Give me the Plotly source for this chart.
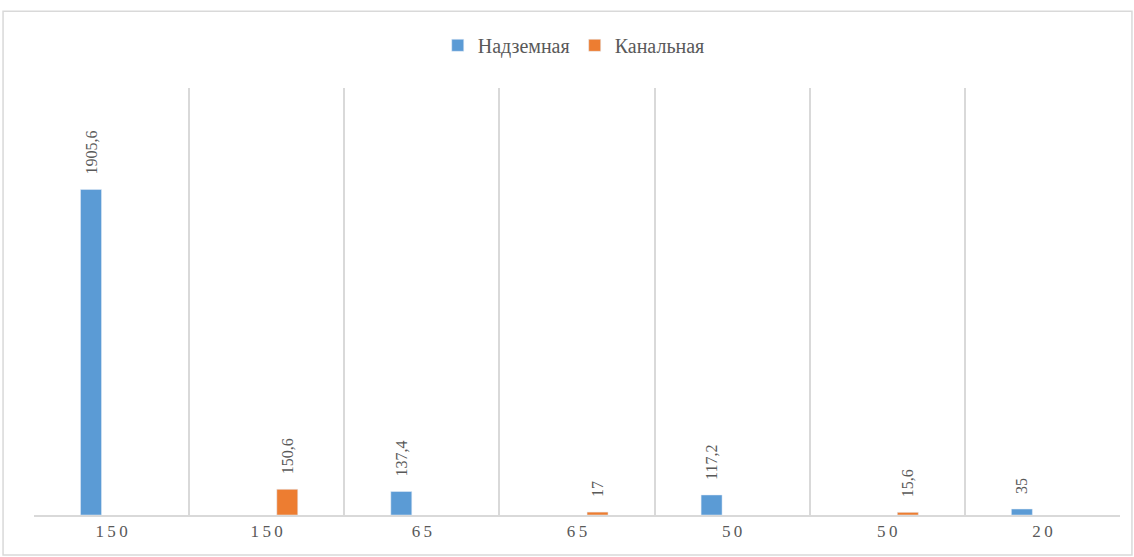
import plotly.graph_objects as go

categories = ["150", "150", "65", "65", "50", "50", "20"]
nadzemnaya = [1905.6, None, 137.4, None, 117.2, None, 35]
kanalnaya = [None, 150.6, None, 17, None, 15.6, None]

BLUE = "#5B9BD5"
ORANGE = "#ED7D31"
TEXT = "#595959"
GRID = "#D9D9D9"
FONT = "Liberation Serif, Times New Roman, serif"


def fmt(vals):
    # comma decimals, a little gap above the bar
    out = []
    for v in vals:
        if v is None:
            out.append("")
        else:
            s = ("%g" % v).replace(".", ",")
            out.append("\u00a0\u00a0\u00a0" + s)
    return out


xs = list(range(len(categories)))
spaced = ["\u2009".join(c) for c in categories]

fig = go.Figure()
fig.add_trace(go.Bar(x=xs, y=nadzemnaya, name="Надземная", marker_color=BLUE,
                     text=fmt(nadzemnaya), textposition="outside", textangle=-90,
                     textfont=dict(family=FONT, size=16, color=TEXT), cliponaxis=False))
fig.add_trace(go.Bar(x=xs, y=kanalnaya, name="Канальная", marker_color=ORANGE,
                     text=fmt(kanalnaya), textposition="outside", textangle=-90,
                     textfont=dict(family=FONT, size=16, color=TEXT), cliponaxis=False))

fig.update_layout(
    width=1134, height=557,
    margin=dict(l=34, r=14, t=88, b=42),
    paper_bgcolor="white", plot_bgcolor="white",
    barmode="group", bargap=0.47, bargroupgap=0.49,
    uniformtext=dict(minsize=16, mode="show"),
    font=dict(family=FONT, color=TEXT),
    legend=dict(orientation="h", x=0.497, xanchor="center", y=1.10, yanchor="middle",
                font=dict(family=FONT, size=20, color=TEXT), itemwidth=30),
    showlegend=True,
)
fig.update_xaxes(range=[-0.5, len(categories) - 0.5], tickvals=xs, ticktext=spaced,
                 showgrid=False, zeroline=False, showline=True, linecolor=GRID, linewidth=2,
                 ticks="", tickfont=dict(family=FONT, size=17, color=TEXT),
                 minor=dict(tickvals=[i - 0.5 for i in range(len(categories) + 1)],
                            showgrid=True, gridcolor=GRID, gridwidth=1.5))
fig.update_yaxes(range=[0, 2500], showgrid=False, zeroline=False, showticklabels=False)

fig.add_shape(type="rect", xref="paper", yref="paper",
              x0=-0.0285, x1=1.011, y0=-0.0937, y1=1.18,
              line=dict(color=GRID, width=1.5), fillcolor="rgba(0,0,0,0)", layer="below")

fig.write_html("out.html", config={"displayModeBar": False},
               post_script="document.body.style.margin='0';")
